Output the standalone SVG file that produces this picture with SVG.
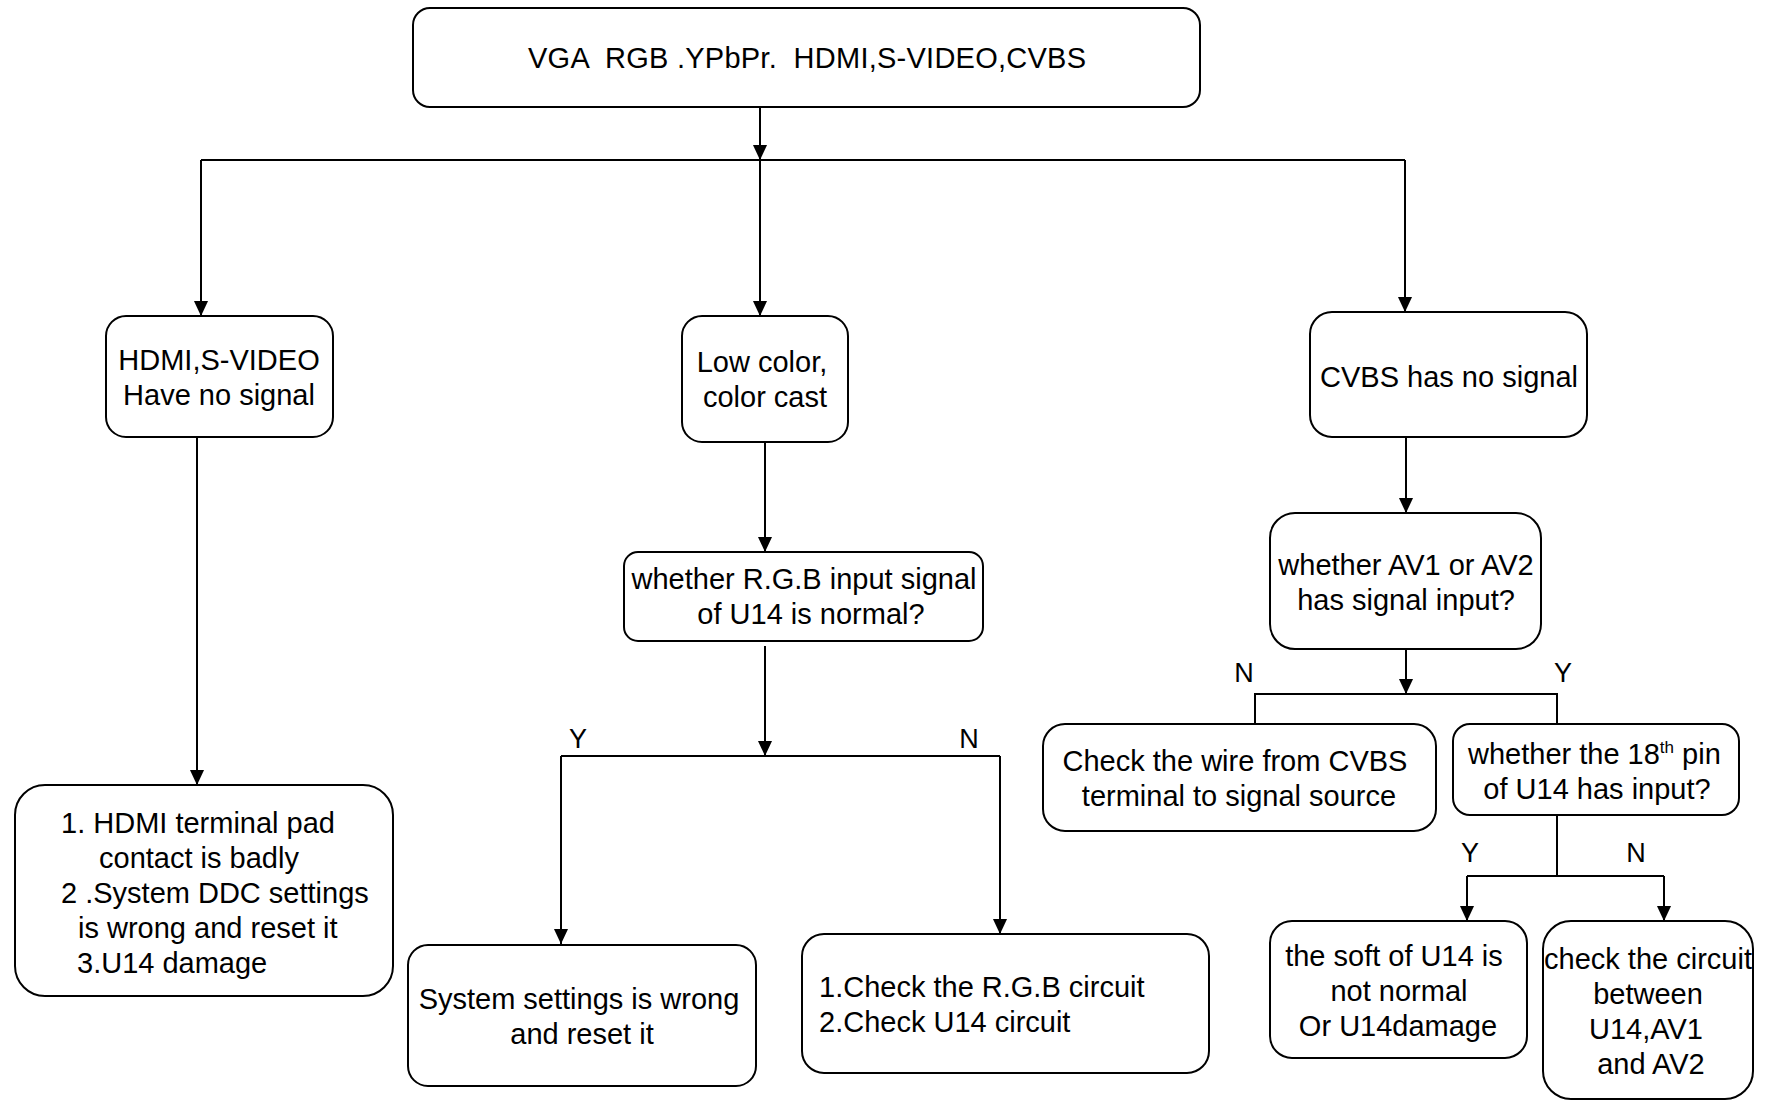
<svg xmlns="http://www.w3.org/2000/svg" width="1765" height="1101" viewBox="0 0 1765 1101">
<style>
.box{fill:#fff;stroke:#000;stroke-width:2}
.t{font-family:"Liberation Sans",Arial,sans-serif;font-size:29px;fill:#000}
.c{text-anchor:middle}
.yn{font-family:"Liberation Sans",Arial,sans-serif;font-size:27px;fill:#000;text-anchor:middle}
.ln{fill:none;stroke:#000;stroke-width:2}
</style>
<defs>
<marker id="ad" markerUnits="userSpaceOnUse" markerWidth="16" markerHeight="17" refX="16" refY="8" orient="auto" viewBox="0 0 17 16">
<path d="M0,0.5 L16,8 L0,15.5 Z" fill="#000"/>
</marker>
</defs>
<rect width="1765" height="1101" fill="#fff"/>

<g id="connectors">
<path class="ln" d="M760,107 V160" marker-end="url(#ad)"/>
<path class="ln" d="M201,160 H1405"/>
<path class="ln" d="M201,160 V316" marker-end="url(#ad)"/>
<path class="ln" d="M760,160 V316" marker-end="url(#ad)"/>
<path class="ln" d="M1405,160 V312" marker-end="url(#ad)"/>
<path class="ln" d="M197,437 V785" marker-end="url(#ad)"/>
<path class="ln" d="M765,442 V552" marker-end="url(#ad)"/>
<path class="ln" d="M765,646 V756" marker-end="url(#ad)"/>
<path class="ln" d="M561,756 H1000"/>
<path class="ln" d="M561,756 V944" marker-end="url(#ad)"/>
<path class="ln" d="M1000,756 V934" marker-end="url(#ad)"/>
<path class="ln" d="M1406,437 V513" marker-end="url(#ad)"/>
<path class="ln" d="M1406,649 V694" marker-end="url(#ad)"/>
<path class="ln" d="M1255,724 V694 H1557 V724"/>
<path class="ln" d="M1557,815 V876"/>
<path class="ln" d="M1467,876 H1664"/>
<path class="ln" d="M1467,876 V921" marker-end="url(#ad)"/>
<path class="ln" d="M1664,876 V921" marker-end="url(#ad)"/>
<text class="yn" x="578" y="748">Y</text>
<text class="yn" x="969" y="748">N</text>
<text class="yn" x="1244" y="682">N</text>
<text class="yn" x="1563" y="682">Y</text>
<text class="yn" x="1470" y="862">Y</text>
<text class="yn" x="1636" y="862">N</text>
</g>

<g id="n-top">
<rect class="box" x="413" y="8" width="787" height="99" rx="17"/>
<text class="t" x="528" y="68" xml:space="preserve" textLength="558" lengthAdjust="spacing">VGA  RGB .YPbPr.  HDMI,S-VIDEO,CVBS</text>
</g>

<g id="n-hdmi">
<rect class="box" x="106" y="316" width="227" height="121" rx="20"/>
<text class="t c" x="219" y="370">HDMI,S-VIDEO</text>
<text class="t c" x="219" y="405">Have no signal</text>
</g>

<g id="n-lowcolor">
<rect class="box" x="682" y="316" width="166" height="126" rx="20"/>
<text class="t c" x="762" y="372">Low color,</text>
<text class="t c" x="765" y="407">color cast</text>
</g>

<g id="n-cvbs">
<rect class="box" x="1310" y="312" width="277" height="125" rx="22"/>
<text class="t c" x="1449" y="387">CVBS has no signal</text>
</g>

<g id="n-hdmi-fix">
<rect class="box" x="15" y="785" width="378" height="211" rx="30"/>
<text class="t" x="61" y="833">1. HDMI terminal pad</text>
<text class="t" x="99" y="868">contact is badly</text>
<text class="t" x="61" y="903">2 .System DDC settings</text>
<text class="t" x="78" y="938">is wrong and reset it</text>
<text class="t" x="77" y="973">3.U14 damage</text>
</g>

<g id="n-rgb">
<rect class="box" x="624" y="552" width="359" height="89" rx="14"/>
<text class="t c" x="804" y="589">whether R.G.B input signal</text>
<text class="t c" x="811" y="624">of U14 is normal?</text>
</g>

<g id="n-sys">
<rect class="box" x="408" y="945" width="348" height="141" rx="20"/>
<text class="t c" x="579" y="1009">System settings is wrong</text>
<text class="t c" x="582" y="1044">and reset it</text>
</g>

<g id="n-checkrgb">
<rect class="box" x="802" y="934" width="407" height="139" rx="22"/>
<text class="t" x="819" y="997">1.Check the R.G.B circuit</text>
<text class="t" x="819" y="1032">2.Check U14 circuit</text>
</g>

<g id="n-av">
<rect class="box" x="1270" y="513" width="271" height="136" rx="25"/>
<text class="t c" x="1406" y="575">whether AV1 or AV2</text>
<text class="t c" x="1406" y="610">has signal input?</text>
</g>

<g id="n-wire">
<rect class="box" x="1043" y="724" width="393" height="107" rx="22"/>
<text class="t c" x="1235" y="771">Check the wire from CVBS</text>
<text class="t c" x="1239" y="806">terminal to signal source</text>
</g>

<g id="n-pin18">
<rect class="box" x="1453" y="724" width="286" height="91" rx="17"/>
<text class="t" x="1468" y="764">whether the 18<tspan font-size="17" dy="-11">th</tspan><tspan dy="11"> pin</tspan></text>
<text class="t c" x="1597" y="799">of U14 has input?</text>
</g>

<g id="n-soft">
<rect class="box" x="1270" y="921" width="257" height="137" rx="22"/>
<text class="t c" x="1394" y="966">the soft of U14 is</text>
<text class="t c" x="1399" y="1001">not normal</text>
<text class="t c" x="1398" y="1036">Or U14damage</text>
</g>

<g id="n-circuit">
<rect class="box" x="1543" y="921" width="210" height="178" rx="28"/>
<text class="t c" x="1648" y="969">check the circuit</text>
<text class="t c" x="1648" y="1004">between</text>
<text class="t c" x="1646" y="1039">U14,AV1</text>
<text class="t c" x="1651" y="1074">and AV2</text>
</g>
</svg>
